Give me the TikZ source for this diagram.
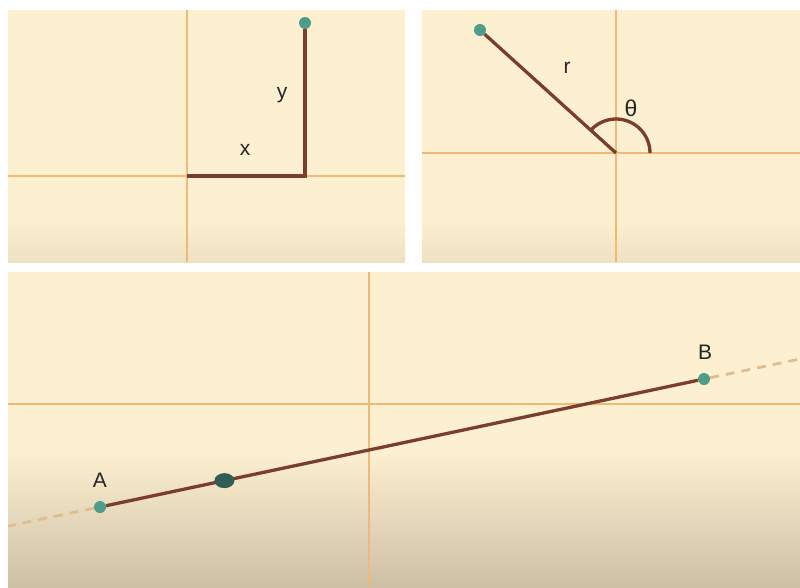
\documentclass[tikz,border=0pt]{standalone}
\usepackage{fontspec}
\setmainfont{Liberation Sans}
\usetikzlibrary{positioning,calc,shapes.geometric}

\definecolor{paper}{HTML}{FDF0D0}
\definecolor{paperlow}{HTML}{EEE1C3}
\definecolor{papertan}{HTML}{CDBFA3}
\definecolor{axisorange}{HTML}{EDBA78}
\definecolor{segbrown}{HTML}{7A3E2C}
\definecolor{dashtan}{HTML}{DDBE90}
\definecolor{dotteal}{HTML}{4F9C8A}
\definecolor{dotdark}{HTML}{2F5C53}
\definecolor{ink}{HTML}{262626}

\begin{document}
\begin{tikzpicture}[
    x=1pt, y=-1pt,
    panel/.style={fill=paper},
    axis/.style={draw=axisorange, line width=2.4pt},
    seg/.style={draw=segbrown, line width=3.3pt},
    ext/.style={draw=dashtan, line width=2.8pt, dash pattern=on 9pt off 7pt},
    pt/.style={circle, fill=dotteal, inner sep=0pt, minimum size=12pt},
    midpt/.style={ellipse, fill=dotdark, inner sep=0pt,
        minimum width=20pt, minimum height=15pt},
    lbl/.style={text=ink, inner sep=0pt, font=\fontsize{21}{24}\selectfont}
]
\useasboundingbox[fill=white] (0,0) rectangle (800,587);

% 1. Panels
\fill[paper] (8,10) rectangle (405,262);
\shade[top color=paper, bottom color=paperlow] (8,220) rectangle (405,262);
\fill[paper] (422,10) rectangle (800,262);
\shade[top color=paper, bottom color=paperlow] (422,220) rectangle (800,262);
\fill[paper] (8,272) rectangle (800,587);
\shade[top color=paper, bottom color=papertan] (8,452) rectangle (800,587);

% 2. Axes
\draw[axis] (187,10) -- (187,262);
\draw[axis] (8,176) -- (405,176);
\draw[axis] (616,10) -- (616,262);
\draw[axis] (422,153) -- (800,153);
\draw[axis] (369,272) -- (369,587);
\draw[axis] (8,404) -- (800,404);

% 3. Cartesian panel
\coordinate (O1) at (187,176);
\coordinate (C1) at (305,176);
\node[pt] (P1) at (305,23) {};
\draw[seg] (O1) -- (C1) -- (P1);
\node[lbl] (xlbl) at (245,150) {x};
\node[lbl] (ylbl) at (282,95) {y};

% 4. Polar panel
\coordinate (O2) at (616,153);
\node[pt] (P2) at (480,30) {};
\draw[seg] (O2) -- (P2);
\draw[seg] ($(O2)+(34,0)$) arc[start angle=0, end angle=138, radius=34pt];
\node[lbl] (rlbl) at (567,68) {r};
\node[lbl] (tlbl) at (631,108) {\fontsize{23}{26}\selectfont θ};

% 5. Line through A and B
\coordinate (Lend) at (8,526);
\coordinate (Rend) at (800,359);
\node[pt] (A) at (100,507) {};
\node[pt] (B) at (704,379) {};
\draw[ext] (A) -- (Lend);
\draw[ext] (B) -- (Rend);
\draw[seg] (A) -- (B);
\path (A) -- (B) node[midpt, pos=0.2] (M) {};
\node[lbl] (Albl) at (100,480) {A};
\node[lbl] (Blbl) at (705,352) {B};

\end{tikzpicture}
\end{document}
